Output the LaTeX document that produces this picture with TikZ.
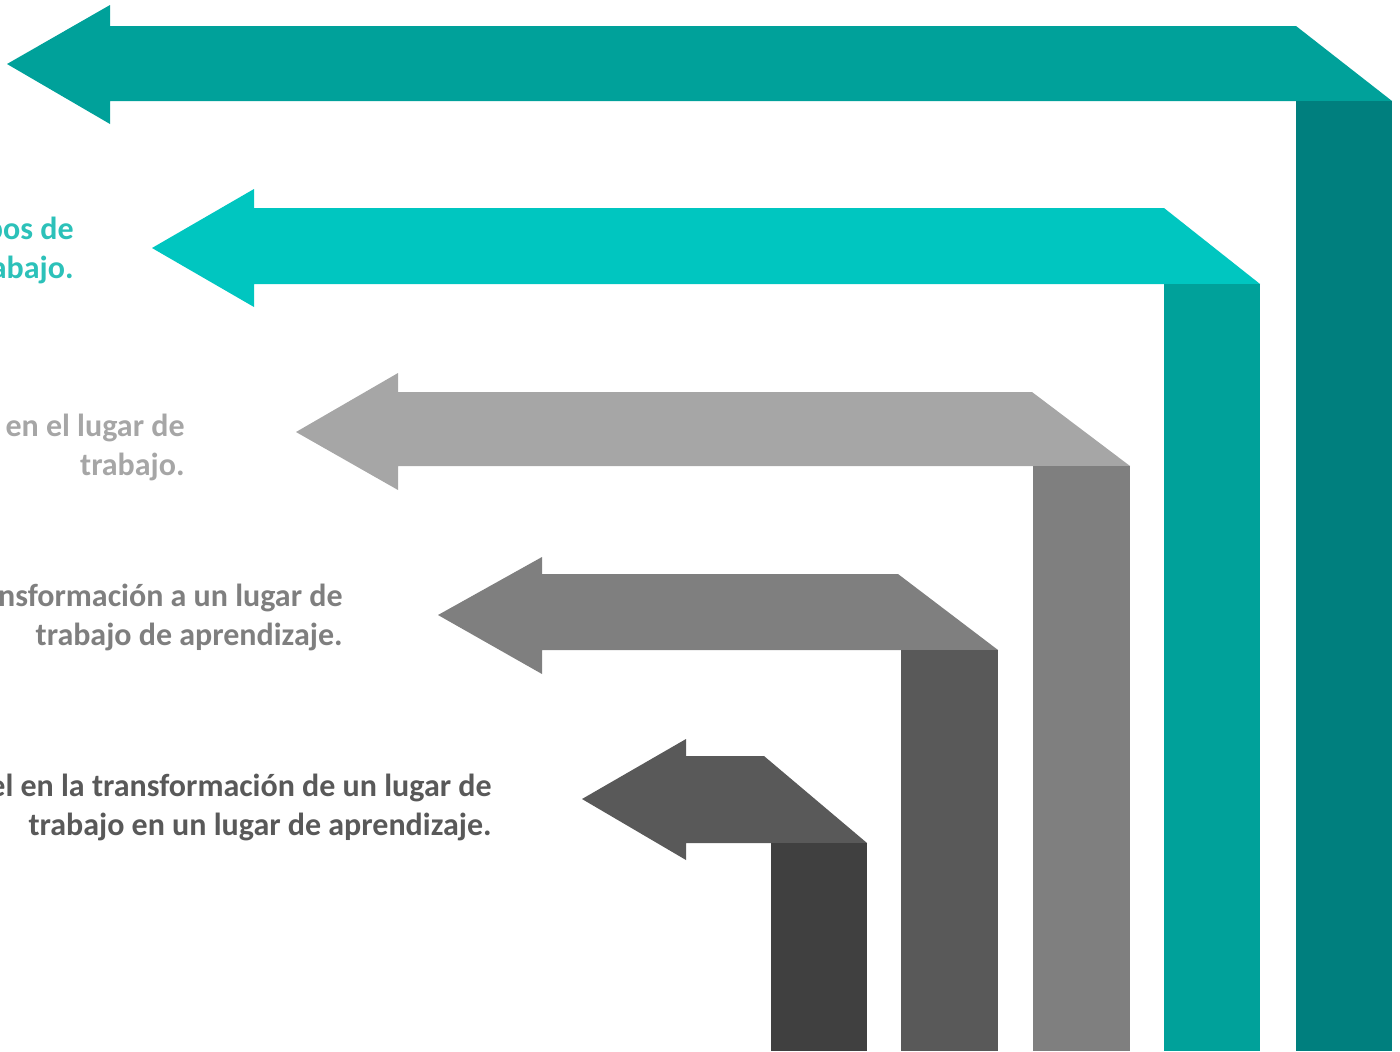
\documentclass[tikz,border=0pt]{standalone}
\usepackage{fontspec}
\setmainfont{Carlito}
\usepackage{tikz}

\definecolor{tealA}{HTML}{00A19A}
\definecolor{tealAdark}{HTML}{007F7E}
\definecolor{tealB}{HTML}{00C6C0}
\definecolor{tealText}{HTML}{2CC1B9}
\definecolor{grayA}{HTML}{A6A6A6}
\definecolor{grayB}{HTML}{7F7F7F}
\definecolor{grayC}{HTML}{595959}
\definecolor{grayD}{HTML}{404040}

\begin{document}
\begin{tikzpicture}[x=0.5pt,y=-0.5pt,
		lbl/.style={anchor=east,align=right,inner sep=0pt,font=\bfseries\fontsize{16}{19.5}\selectfont}]
				\useasboundingbox (0,0) rectangle (1400,1051);
				\clip (0,0) rectangle (1400,1051);
				
				\fill[tealA] (7,64) -- (110,5) -- (110,26) -- (1296,26) -- (1392,101) -- (110,101) -- (110,124) -- cycle;
				\fill[tealAdark] (1296,101) rectangle (1392,1051);
				
				\fill[tealB] (152,248) -- (254,189) -- (254,208) -- (1164,208) -- (1260,284) -- (254,284) -- (254,307) -- cycle;
				\fill[tealA] (1164,284) rectangle (1260,1051);
				
				\fill[grayA] (296,432) -- (398,373) -- (398,392) -- (1032,392) -- (1130,466) -- (398,466) -- (398,490) -- cycle;
				\fill[grayB] (1033,466) rectangle (1130,1051);
				
				\fill[grayB] (438,615) -- (542,557) -- (542,574) -- (898,574) -- (998,650) -- (542,650) -- (542,674) -- cycle;
				\fill[grayC] (901,650) rectangle (998,1051);
				
				\fill[grayC] (582,799) -- (686,739) -- (686,756) -- (764,756) -- (867,843) -- (686,843) -- (686,860) -- cycle;
				\fill[grayD] (771,843) rectangle (867,1051);
				
				\node[lbl,text=tealText] (txtA) at (74,250) {pos de\\abajo.};
				\node[lbl,text=grayA] (txtB) at (185,447) {en el lugar de\\trabajo.};
				\node[lbl,text=grayB] (txtC) at (343,617) {nsformación a un lugar de\\trabajo de aprendizaje.};
				\node[lbl,text=grayC] (txtD) at (492,807) {el en la transformación de un lugar de\\trabajo en un lugar de aprendizaje.};
			\end{tikzpicture}
\end{document}
